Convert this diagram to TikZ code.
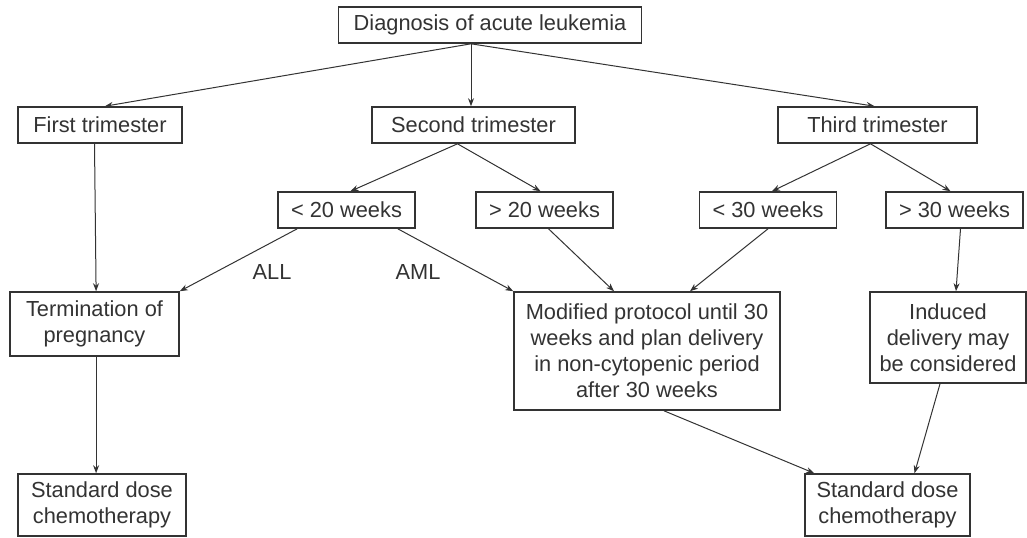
\documentclass[tikz,border=0pt]{standalone}
\usepackage{fontspec}
\setmainfont{Liberation Sans}
\usetikzlibrary{arrows.meta, calc}

\begin{document}
\begin{tikzpicture}[
    x=0.5pt, y=-0.5pt,
    >=Stealth,
    every node/.style={font=\fontsize{10.9}{13}\selectfont, align=center, text=black!80},
    arr/.style={-{Stealth[length=4pt, width=3pt]}, line width=0.5pt, draw=black!80},
    box/.style={
      rectangle, draw=black!80, line width=0.8pt,
      fill=white, inner sep=2pt, minimum height=18pt
    },
    weekbox/.style={box, minimum width=68.5pt},
    tiny/.style={font=\fontsize{10.9}{13}\selectfont}
  ]

    \useasboundingbox (0,0) rectangle (1027,537);

    % Top
    \node[box, minimum width=151.5pt] (diag) at (490,25) {Diagnosis of acute leukemia};

    % Trimesters
    \node[box, minimum width=82pt] (first) at (100,125) {First trimester};
    \node[box, minimum width=101.5pt] (second) at (473.5,125) {Second trimester};
    \node[box, minimum width=99.5pt] (third) at (877.5,125) {Third trimester};

    % Weeks
    \node[weekbox] (lt20) at (346.5,210) {< 20 weeks};
    \node[weekbox] (gt20) at (544.5,210) {> 20 weeks};
    \node[weekbox] (lt30) at (768,210) {< 30 weeks};
    \node[weekbox] (gt30) at (954.5,210) {> 30 weeks};

    % Decisions
    \node[box, minimum width=84.5pt, minimum height=32pt] (term) at (94.5,324)
      {Termination of\\pregnancy};
    \node[box, minimum width=133pt, minimum height=59pt] (mod) at (647,351)
      {Modified protocol until 30\\weeks and plan delivery\\in non-cytopenic period\\after 30 weeks};
    \node[box, minimum width=78pt, minimum height=45.5pt] (induced) at (948,337.5)
      {Induced\\delivery may\\be considered};

    % Outcomes
    \node[box, minimum width=84pt, minimum height=31pt] (stdL) at (102,505)
      {Standard dose\\chemotherapy};
    \node[box, minimum width=82.5pt, minimum height=31pt] (stdR) at (887.5,505)
      {Standard dose\\chemotherapy};

    % Branch labels
    \node[tiny] (all) at (272,272) {ALL};
    \node[tiny] (aml) at (418,272) {AML};

    \coordinate (fork) at ([xshift=-9.5pt]diag.south);
    \coordinate (split2) at ([xshift=-8pt]second.south);
    \coordinate (split3) at ([xshift=-3.5pt]third.south);

    \draw[arr] (fork) -- ([xshift=2.5pt]first.north);
    \draw[arr] (fork) -- (fork |- second.north);
    \draw[arr] (fork) -- ([xshift=-1.5pt]third.north);

    \draw[arr] (split2) -- ([xshift=2pt]lt20.north);
    \draw[arr] (split2) -- ([xshift=-2pt]gt20.north);
    \draw[arr] (split3) -- ([xshift=2pt]lt30.north);
    \draw[arr] (split3) -- ([xshift=-2pt]gt30.north);

    \draw[arr] (first.south -| term.north) -- ([xshift=0.8pt]term.north);
    \draw[arr] ([xshift=10pt]lt20.south west) -- (term.north east);
    \draw[arr] ([xshift=-9pt]lt20.south east) -- (mod.north west);
    \draw[arr] ([xshift=2pt]gt20.south) -- ([xshift=-16.5pt]mod.north);
    \draw[arr] (lt30.south) -- ([xshift=21.5pt]mod.north);
    \draw[arr] ([xshift=3pt]gt30.south) -- ([xshift=4pt]induced.north);

    \draw[arr] ([xshift=0.8pt]term.south) -- ([xshift=0.8pt]term.south |- stdL.north);
    \draw[arr] ([xshift=8.5pt]mod.south) -- ([xshift=5pt]stdR.north west);
    \draw[arr] ([xshift=-4pt]induced.south) -- ([xshift=13.5pt]stdR.north);

  \end{tikzpicture}
\end{document}
